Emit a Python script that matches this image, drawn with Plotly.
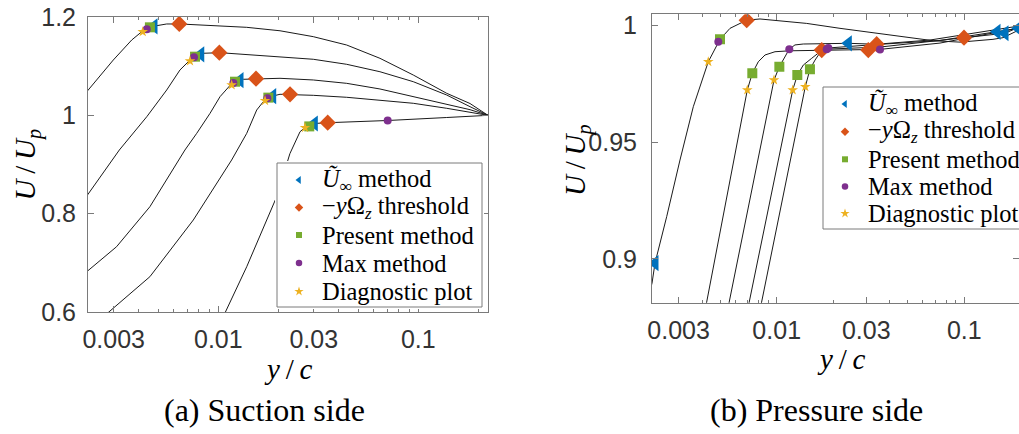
import math
import plotly.graph_objects as go

# ---------------- Suction side: velocity profiles (y/c, U/Up) ----------------
suction_yc_1 = [0.0022, 0.002985, 0.00369, 0.00414, 0.00455, 0.00552, 0.00643, 0.00944, 0.01387,
                0.02035, 0.02985, 0.04385, 0.0643, 0.0944, 0.1387, 0.1814, 0.2231]
suction_u_1 = [1.048, 1.1125, 1.1532, 1.170, 1.180, 1.1858, 1.1858, 1.183, 1.179,
               1.172, 1.160, 1.143, 1.116, 1.082, 1.0448, 1.024, 1.0]

suction_yc_2 = [0.0022, 0.0032, 0.00439, 0.00552, 0.00643, 0.00722, 0.00765, 0.00841, 0.0102,
                0.02035, 0.02985, 0.04385, 0.0643, 0.0944, 0.1387, 0.1814, 0.2231]
suction_u_2 = [0.836, 0.9295, 0.9972, 1.0515, 1.0922, 1.1125, 1.1193, 1.1262, 1.1274,
               1.118, 1.114, 1.1038, 1.0887, 1.0684, 1.0413, 1.0176, 1.0]

suction_yc_3 = [0.0022, 0.0031, 0.00455, 0.00681, 0.0078, 0.00909, 0.0102, 0.01122, 0.01189, 0.01334,
                0.01556, 0.02035, 0.02985, 0.04385, 0.0643, 0.0944, 0.1387, 0.1814, 0.2231]
suction_u_3 = [0.682, 0.7328, 0.8141, 0.9295, 0.9634, 1.004, 1.0379, 1.0582, 1.0684, 1.0733,
               1.0745, 1.0753, 1.0719, 1.0651, 1.0536, 1.0379, 1.021, 1.0115, 1.0]

suction_yc_4 = [0.0028, 0.00455, 0.0075, 0.01166, 0.01387, 0.01556, 0.01679, 0.01813, 0.02035,
                0.02985, 0.04385, 0.0643, 0.0944, 0.1387, 0.1814, 0.2231]
suction_u_4 = [0.598, 0.6718, 0.7871, 0.9091, 0.9634, 1.0108, 1.0277, 1.0379, 1.0428,
               1.0407, 1.0367, 1.0312, 1.0245, 1.0143, 1.0062, 1.0]

suction_yc_5 = [0.0108, 0.01387, 0.01746, 0.01959, 0.0228, 0.02562, 0.02767, 0.0302, 0.03524,
                0.0703, 0.1387, 0.2231]
suction_u_5 = [0.598, 0.6921, 0.7871, 0.8345, 0.922, 0.9667, 0.9783, 0.9834, 0.985,
               0.9895, 0.9956, 1.0]

# Edge estimates by method (suction side)
suction_uinf_yc = [0.00477, 0.00817, 0.01284, 0.0187, 0.0302]
suction_uinf_u = [1.181, 1.124, 1.0716, 1.039, 0.9834]
suction_omega_yc = [0.00638, 0.01012, 0.01544, 0.02284, 0.03524]
suction_omega_u = [1.186, 1.1274, 1.0745, 1.0428, 0.985]
suction_present_yc = [0.00455, 0.00765, 0.01212, 0.01779, 0.0285]
suction_present_u = [1.179, 1.1193, 1.0684, 1.036, 0.9775]
suction_max_yc = [0.00439, 0.00756, 0.01189, 0.01759, 0.0703]
suction_max_u = [1.175, 1.118, 1.066, 1.0346, 0.9895]
suction_diag_yc = [0.00419, 0.00722, 0.01166, 0.01713, 0.02713]
suction_diag_u = [1.170, 1.1105, 1.0617, 1.0298, 0.975]

# ---------------- Pressure side: velocity profiles (y/c, U/Up) ----------------
pressure_yc_1 = [0.0021, 0.002164, 0.002245, 0.002592, 0.003051, 0.003593, 0.004318, 0.004884, 0.004986,
                 0.005637, 0.00692, 0.008147, 0.009592, 0.01445, 0.02175, 0.03273, 0.04932, 0.06836,
                 0.0949, 0.1422, 0.1608, 0.1818, 0.1957]
pressure_u_1 = [0.886, 0.8896, 0.8982, 0.9181, 0.9423, 0.9651, 0.9843, 0.9929, 0.9939,
                0.9986, 1.0021, 1.0026, 1.0021, 1.0007, 0.9986, 0.9967, 0.9950, 0.9933,
                0.9927, 0.9939, 0.9946, 0.9965, 0.9979]

pressure_yc_2 = [0.004204, 0.00697, 0.007413, 0.007977, 0.008661, 0.009793, 0.01177, 0.03078,
                 0.03554, 0.07422, 0.1494, 0.1957]
pressure_u_2 = [0.8803, 0.9722, 0.9794, 0.9843, 0.9872, 0.9886, 0.9890, 0.9893,
                0.9896, 0.9923, 0.9971, 0.9987]

pressure_yc_3 = [0.00554, 0.009674, 0.01033, 0.01107, 0.01167, 0.01251, 0.01386, 0.02408,
                 0.03411, 0.06566, 0.1957]
pressure_u_3 = [0.8803, 0.9765, 0.9822, 0.9865, 0.9897, 0.9915, 0.9919, 0.9922,
                0.9918, 0.9936, 0.9996]

pressure_yc_4 = [0.007083, 0.01217, 0.01288, 0.01386, 0.01537, 0.01702, 0.01847, 0.03554,
                 0.09963, 0.1648, 0.1957]
pressure_u_4 = [0.8803, 0.9722, 0.9786, 0.9829, 0.9858, 0.9886, 0.9897, 0.9906,
                0.9946, 0.9965, 0.9991]

pressure_yc_5 = [0.008247, 0.0142, 0.01504, 0.016, 0.01738, 0.01884, 0.03141, 0.0742,
                 0.194, 0.1957]
pressure_u_5 = [0.8803, 0.9736, 0.9811, 0.985, 0.9893, 0.9902, 0.9915, 0.9934,
                0.9986, 0.9987]

# Edge estimates by method (pressure side)
pressure_uinf_yc = [0.002245, 0.1494, 0.02408, 0.1648, 0.194]
pressure_uinf_u = [0.8982, 0.9971, 0.9922, 0.9965, 0.9986]
pressure_omega_yc = [0.00692, 0.03078, 0.03411, 0.09963, 0.01738]
pressure_omega_u = [1.0021, 0.9893, 0.9918, 0.9946, 0.9893]
pressure_present_yc = [0.004986, 0.007413, 0.01033, 0.01288, 0.01504]
pressure_present_u = [0.9939, 0.9794, 0.9822, 0.9786, 0.9811]
pressure_max_yc = [0.004884, 0.03554, 0.01167, 0.01847, 0.01884]
pressure_max_u = [0.9929, 0.9896, 0.9897, 0.9897, 0.9902]
pressure_diag_yc = [0.004318, 0.00697, 0.009674, 0.01217, 0.0142]
pressure_diag_u = [0.9843, 0.9722, 0.9765, 0.9722, 0.9736]

# Axis ticks and labels
x_tickvals = [0.003, 0.01, 0.03, 0.1]
x_ticktext = ["0.003", "0.01", "0.03", "0.1"]
suction_ytickvals = [0.6, 0.8, 1.0, 1.2]
suction_yticktext = ["0.6", "0.8", "1", "1.2"]
pressure_ytickvals = [0.9, 0.95, 1.0]
pressure_yticktext = ["0.9", "0.95", "1"]

method_labels = [
    "<i>Ũ</i><sub>∞</sub> method",
    "\u2212<i>y</i>Ω<sub><i>z</i></sub> threshold",
    "Present method",
    "Max method",
    "Diagnostic plot",
]
captions = ["(a) Suction side", "(b) Pressure side"]

# ---------------- styling ----------------
W, H = 1019, 434
COLORS = ["#0072BD", "#D95319", "#77AC30", "#7E2F8E", "#EDB120"]
SYMBOLS = ["triangle-left", "diamond", "square", "circle", "star"]
MARK_SIZES = [14, 12.5, 10, 8, 8]
KEY_SIZES = [7, 6.5, 6, 6.5, 7]
AXIS_COLOR = "#7a7a7a"
TICK_FONT = dict(family="Liberation Sans, Arial, sans-serif", size=25, color="#333333")
SERIF = "Liberation Serif, Times New Roman, serif"


def fx(p):
    return p / W


def fy(p):
    return 1 - p / H


fig = go.Figure()

suction_curves = [(suction_yc_1, suction_u_1), (suction_yc_2, suction_u_2), (suction_yc_3, suction_u_3),
                  (suction_yc_4, suction_u_4), (suction_yc_5, suction_u_5)]
pressure_curves = [(pressure_yc_1, pressure_u_1), (pressure_yc_2, pressure_u_2), (pressure_yc_3, pressure_u_3),
                   (pressure_yc_4, pressure_u_4), (pressure_yc_5, pressure_u_5)]
suction_marks = [(suction_uinf_yc, suction_uinf_u), (suction_omega_yc, suction_omega_u),
                 (suction_present_yc, suction_present_u), (suction_max_yc, suction_max_u),
                 (suction_diag_yc, suction_diag_u)]
pressure_marks = [(pressure_uinf_yc, pressure_uinf_u), (pressure_omega_yc, pressure_omega_u),
                  (pressure_present_yc, pressure_present_u), (pressure_max_yc, pressure_max_u),
                  (pressure_diag_yc, pressure_diag_u)]

for curves, marks, xa, ya in [(suction_curves, suction_marks, "x", "y"),
                              (pressure_curves, pressure_marks, "x2", "y2")]:
    for xs, ys in curves:
        fig.add_trace(go.Scatter(x=xs, y=ys, mode="lines", xaxis=xa, yaxis=ya,
                                 line=dict(color="#1a1a1a", width=1), showlegend=False,
                                 hoverinfo="skip"))
    for i, (xs, ys) in enumerate(marks):
        fig.add_trace(go.Scatter(x=xs, y=ys, mode="markers", xaxis=xa, yaxis=ya,
                                 marker=dict(symbol=SYMBOLS[i], size=MARK_SIZES[i], color=COLORS[i],
                                             line=dict(width=0)),
                                 name=method_labels[i], showlegend=False))

annotations = []
shapes = []


def legend_block(xa, ya, left, top, right, bottom, key_x, text_x, rows):
    """Boxed key drawn on an auxiliary pixel-scaled axis pair."""
    dom_r = min(right + 2, W)
    xaxis = dict(domain=[fx(left - 2), fx(dom_r)], range=[left - 2, dom_r], visible=False,
                 fixedrange=True, anchor=ya, automargin=False)
    yaxis = dict(domain=[fy(bottom + 2), fy(top - 2)], range=[bottom + 2, top - 2], visible=False,
                 fixedrange=True, anchor=xa, automargin=False)
    shapes.append(dict(type="rect", xref=xa, yref=ya, x0=left, x1=right, y0=top, y1=bottom,
                       fillcolor="white", line=dict(color=AXIS_COLOR, width=1), layer="below"))
    for i, label in enumerate(method_labels):
        fig.add_trace(go.Scatter(x=[key_x], y=[rows[i]], mode="markers", xaxis=xa, yaxis=ya,
                                 marker=dict(symbol=SYMBOLS[i], size=KEY_SIZES[i], color=COLORS[i],
                                             line=dict(width=0)),
                                 showlegend=False, hoverinfo="skip"))
        annotations.append(dict(xref=xa, yref=ya, x=text_x, y=rows[i], text=label, showarrow=False,
                                xanchor="left", yanchor="middle",
                                font=dict(family=SERIF, size=24.5, color="black")))
    return xaxis, yaxis


xaxis3, yaxis3 = legend_block("x3", "y3", 277, 163, 482, 307, 299, 320,
                              [180, 207.5, 235, 263, 291.5])
xaxis4, yaxis4 = legend_block("x4", "y4", 823, 87, 1040, 229, 845, 866,
                              [104, 131.7, 159.3, 186.5, 213.5])

common_axis = dict(showline=True, linecolor=AXIS_COLOR, linewidth=1, mirror="ticks", ticks="inside",
                   ticklen=6, tickcolor=AXIS_COLOR, tickwidth=1, showgrid=False, zeroline=False,
                   tickfont=TICK_FONT, fixedrange=True, automargin=False)
minor_log = dict(ticks="inside", ticklen=3, tickcolor=AXIS_COLOR, dtick="D1", showgrid=False)

fig.update_layout(
    width=W, height=H,
    margin=dict(l=0, r=0, t=0, b=0, pad=0, autoexpand=False),
    paper_bgcolor="white", plot_bgcolor="white",
    showlegend=False,
    xaxis=dict(domain=[fx(88), fx(488)], type="log",
               range=[math.log10(0.002231), math.log10(0.2231)], anchor="y",
               tickmode="array", tickvals=x_tickvals, ticktext=x_ticktext,
               ticklabelstandoff=5, minor=minor_log, **common_axis),
    yaxis=dict(domain=[fy(312), fy(17)], range=[0.6, 1.2], anchor="x",
               tickmode="array", tickvals=suction_ytickvals, ticktext=suction_yticktext,
               ticklabelstandoff=6, **common_axis),
    xaxis2=dict(domain=[fx(652), 1.0], type="log",
                range=[math.log10(0.002164), math.log10(0.1957)], anchor="y2",
                tickmode="array", tickvals=x_tickvals, ticktext=x_ticktext,
                ticklabelstandoff=5, minor=minor_log, **common_axis),
    yaxis2=dict(domain=[fy(302.7), fy(14.3)], range=[0.8813, 1.0046], anchor="x2",
                tickmode="array", tickvals=pressure_ytickvals, ticktext=pressure_yticktext,
                ticklabelstandoff=9, **common_axis),
    xaxis3=xaxis3, yaxis3=yaxis3, xaxis4=xaxis4, yaxis4=yaxis4,
)

ylabel = "<i>U</i>\u2009/\u2009<i>U</i><sub><i>p</i></sub>"
xlabel = "<i>y</i>\u2009/\u2009<i>c</i>"
title_font = dict(family=SERIF, size=29, color="black")
annotations += [
    dict(xref="paper", yref="paper", x=fx(27), y=fy(164.5), text=ylabel, textangle=-90,
         showarrow=False, xanchor="center", yanchor="middle", font=title_font),
    dict(xref="paper", yref="paper", x=fx(578), y=fy(160), text=ylabel, textangle=-90,
         showarrow=False, xanchor="center", yanchor="middle", font=title_font),
    dict(xref="paper", yref="paper", x=fx(288), y=fy(369), text=xlabel,
         showarrow=False, xanchor="center", yanchor="middle", font=title_font),
    dict(xref="paper", yref="paper", x=fx(841), y=fy(359), text=xlabel,
         showarrow=False, xanchor="center", yanchor="middle", font=title_font),
    dict(xref="paper", yref="paper", x=fx(264), y=fy(410), text=captions[0],
         showarrow=False, xanchor="center", yanchor="middle",
         font=dict(family=SERIF, size=32, color="black")),
    dict(xref="paper", yref="paper", x=fx(816), y=fy(410), text=captions[1],
         showarrow=False, xanchor="center", yanchor="middle",
         font=dict(family=SERIF, size=32, color="black")),
]

fig.update_layout(annotations=annotations, shapes=shapes)

fig.write_html("out.html")
